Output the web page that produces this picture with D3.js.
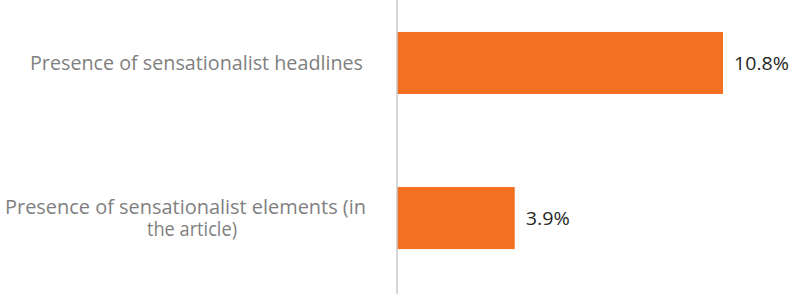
<!DOCTYPE html>
<html><head><meta charset="utf-8">
<script src="https://cdn.jsdelivr.net/npm/d3@7"></script>
<style>body{margin:0;background:#fff}svg{display:block}text{font-variant-ligatures:none}</style>
</head><body>
<svg id="c" width="794" height="294"></svg>
<script>
const categories = ["Presence of sensationalist headlines", "Presence of sensationalist elements (in the article)"];
const labelLines = [["Presence of sensationalist headlines"], ["Presence of sensationalist elements (in", "the article)"]];
const values = [10.8, 3.9];
const valueLabels = ["10.8%", "3.9%"];

const svg = d3.select("#c");
const font = "'Open Sans', sans-serif";
const x0 = 397;
const x = d3.scaleLinear().domain([0, 10.8]).range([x0, 723]);
const y = d3.scaleBand().domain(categories).range([0, 281]).paddingInner(0.6).paddingOuter(0.206);

svg.selectAll("rect.bar").data(values).enter().append("rect")
  .attr("class","bar")
  .attr("x", x(0))
  .attr("y", (d,i)=>y(categories[i]))
  .attr("width", d=>x(d)-x(0))
  .attr("height", y.bandwidth())
  .attr("fill", "#F37021");

svg.append("line").attr("x1", x0).attr("x2", x0).attr("y1", 0).attr("y2", 294)
  .attr("stroke", "#c8c8c8").attr("stroke-width", 1.5);

const valSpans = [55, 44];
svg.selectAll("text.val").data(values).enter().append("text")
  .attr("class","val")
  .attr("x", d=>x(d)+11)
  .attr("y", (d,i)=>y(categories[i])+y.bandwidth()/2)
  .attr("dy","0.35em")
  .attr("textLength", (d,i)=>valSpans[i])
  .attr("lengthAdjust", "spacingAndGlyphs")
  .attr("font-family", font).attr("font-size", 19).attr("fill", "#262626")
  .text((d,i)=>valueLabels[i]);

// category labels (spans measured from reference)
const lineH = 21.5;
const spans = [[[30, 363]], [[5, 366], [147, 237]]];
categories.forEach((c,i)=>{
  const lines = labelLines[i];
  const cy = y(c)+y.bandwidth()/2;
  lines.forEach((ln,j)=>{
    const [a,b] = spans[i][j];
    svg.append("text")
      .attr("x", a)
      .attr("y", cy + (j - (lines.length-1)/2)*lineH)
      .attr("dy","0.35em")
      .attr("textLength", b-a)
      .attr("lengthAdjust", "spacingAndGlyphs")
      .attr("font-family", font).attr("font-size", 19.5).attr("fill", "#7f7f7f")
      .text(ln);
  });
});
</script>
</body></html>
